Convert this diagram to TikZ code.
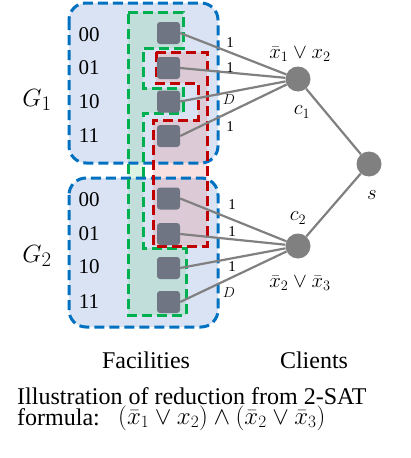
\documentclass[tikz,border=0pt]{standalone}
\usepackage{fontspec}
\setmainfont{Liberation Serif}
\definecolor{bline}{RGB}{0,112,192}
\definecolor{bfill}{RGB}{218,227,243}
\definecolor{gline}{RGB}{0,176,80}
\definecolor{gfill}{RGB}{121,209,149}
\definecolor{rline}{RGB}{192,0,0}
\definecolor{rfill}{RGB}{230,120,120}
\definecolor{sqc}{RGB}{112,117,131}
\definecolor{edgec}{RGB}{128,128,128}
\definecolor{circc}{RGB}{128,128,128}
\tikzset{
  dashline/.style={line width=3pt, dash pattern=on 10pt off 5pt},
  facsq/.style={draw=none, fill=sqc, rounded corners=3pt, minimum width=23pt, minimum height=22pt, inner sep=0pt},
  client/.style={circle, draw=none, fill=circc, minimum size=25pt, inner sep=0pt},
  link/.style={draw=edgec, line width=2.2pt},
  bits/.style={font=\fontsize{21}{22}\selectfont, inner sep=0pt},
  wlab/.style={font=\fontsize{15}{16}\selectfont, inner sep=0pt},
  mlab/.style={font=\fontsize{22}{24}\selectfont, inner sep=0pt},
  glab/.style={font=\fontsize{28}{30}\selectfont, inner sep=0pt},
  captxt/.style={font=\fontsize{24}{26}\selectfont, inner sep=0pt}
}
\begin{document}
\begin{tikzpicture}[x=1pt,y=-1pt]
\useasboundingbox (0,0) rectangle (410,458);
% blue group fills
\fill[bfill, rounded corners=17pt] (69,3) rectangle (218,163);
\fill[bfill, rounded corners=17pt] (69,178) rectangle (218,327);
% green and red region fills
\fill[gfill, opacity=0.25] (128,12) -- (183,12) -- (183,48) -- (143,48) -- (143,88) -- (183,88) -- (183,113) -- (143,113) -- (143,248) -- (186,248) -- (186,315) -- (128,315) -- cycle;
\fill[rfill, opacity=0.22] (156,52) -- (207,52) -- (207,246) -- (153,246) -- (153,120) -- (198,120) -- (198,83) -- (156,83) -- cycle;
% blue borders
\draw[bline, dashline, rounded corners=17pt] (69,3) rectangle (218,163);
\draw[bline, dashline, rounded corners=17pt] (69,178) rectangle (218,327);
% green and red borders
\draw[gline, dashline] (128,12) -- (183,12) -- (183,48) -- (143,48) -- (143,88) -- (183,88) -- (183,113) -- (143,113) -- (143,248) -- (186,248) -- (186,315) -- (128,315) -- cycle;
\draw[rline, dashline] (156,52) -- (207,52) -- (207,246) -- (153,246) -- (153,120) -- (198,120) -- (198,83) -- (156,83) -- cycle;
% group labels
\node[glab] (g1) at (37,100) {$G_1$};
\node[glab] (g2) at (37,256) {$G_2$};
% bit labels
\node[bits] (l00a) at (89,35) {00};
\node[bits] (l01a) at (89,68) {01};
\node[bits] (l10a) at (89,102) {10};
\node[bits] (l11a) at (89,136) {11};
\node[bits] (l00b) at (89,200) {00};
\node[bits] (l01b) at (89,234) {01};
\node[bits] (l10b) at (89,267) {10};
\node[bits] (l11b) at (89,302) {11};
% facilities
\node[facsq] (a1) at (168.5,33) {};
\node[facsq] (a2) at (168.5,68) {};
\node[facsq] (a3) at (168.5,101.5) {};
\node[facsq] (a4) at (168.5,136) {};
\node[facsq] (b1) at (168.5,198.5) {};
\node[facsq] (b2) at (168.5,234) {};
\node[facsq] (b3) at (168.5,268) {};
\node[facsq] (b4) at (168.5,302) {};
% clients
\node[client] (c1) at (298,79) {};
\node[client] (c2) at (298,246) {};
\node[client] (s) at (369,164) {};
% links
\draw[link] (a1.east) -- (c1);
\draw[link] (a2.east) -- (c1);
\draw[link] (a3.east) -- (c1);
\draw[link] (a4.east) -- (c1);
\draw[link] (b1.east) -- (c2);
\draw[link] (b2.east) -- (c2);
\draw[link] (b3.east) -- (c2);
\draw[link] (b4.east) -- (c2);
\draw[link] (c1) -- (s);
\draw[link] (c2) -- (s);
% weights
\node[wlab] (w1) at (230,43) {1};
\node[wlab] (w2) at (230,68) {1};
\node[wlab] (w3) at (229,100) {$D$};
\node[wlab] (w4) at (230,127) {1};
\node[wlab] (w5) at (232,205) {1};
\node[wlab] (w6) at (232,232) {1};
\node[wlab] (w7) at (232,267) {1};
\node[wlab] (w8) at (229,293) {$D$};
% client labels
\node[mlab] (f1) at (300,54) {$\bar{x}_1\vee x_2$};
\node[mlab] (n1) at (302,112) {$c_1$};
\node[mlab] (n2) at (298,218) {$c_2$};
\node[mlab] (f2) at (300,283) {$\bar{x}_2\vee \bar{x}_3$};
\node[mlab] (ns) at (372,195) {$s$};
% captions
\node[captxt, anchor=base] (fac) at (146,368) {Facilities};
\node[captxt, anchor=base] (cli) at (314,368) {Clients};
\node[captxt, anchor=base west] (cap1) at (17,404) {Illustration of reduction from 2-SAT};
\node[captxt, anchor=base west] (cap2) at (17,425) {formula:};
\node[font=\fontsize{24}{26}\selectfont, inner sep=0pt, anchor=west] (cap3) at (118,418) {$(\bar{x}_1\vee x_2)\wedge(\bar{x}_2\vee\bar{x}_3)$};
\end{tikzpicture}
\end{document}
